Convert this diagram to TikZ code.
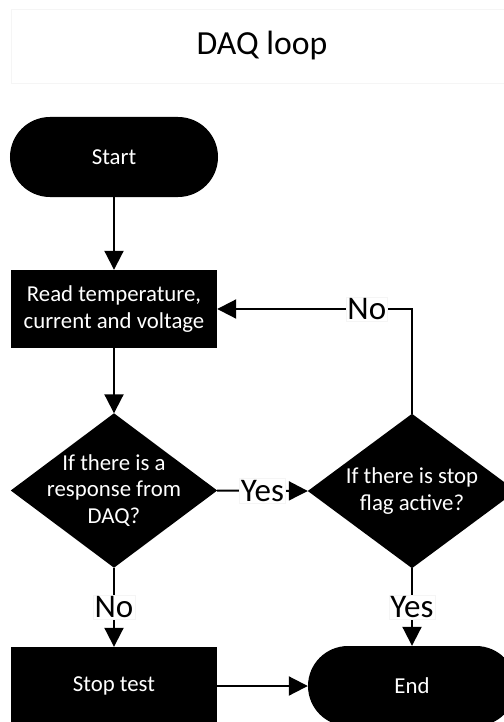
\documentclass[tikz,border=0pt]{standalone}
\usepackage{fontspec}
\setmainfont{Carlito}
\usetikzlibrary{arrows.meta,backgrounds}
\begin{document}
\begin{tikzpicture}[x=1bp,y=-1bp,
  nodefont/.style={font=\fontsize{22.8bp}{26.5bp}\selectfont},
  box/.style={rectangle, fill=black, text=white, nodefont, align=center, inner sep=0pt},
  term/.style={box, rounded corners=40bp, minimum width=208bp, minimum height=80bp},
  proc/.style={box, minimum width=206bp, minimum height=78bp},
  dec/.style={rectangle, text=white, nodefont, align=center, minimum width=206bp, minimum height=154bp, inner sep=0pt},
  conn/.style={line width=2bp, -{Triangle[length=19bp,width=19bp]}},
  lbl/.style={fill=white, draw=black!4, line width=0.5bp, text=black, font=\fontsize{33bp}{36bp}\selectfont, inner sep=1.5bp}
]
\useasboundingbox (0,0) rectangle (504,722);
\clip (0,0) rectangle (504,722);

\node[draw=black!4, line width=0.6bp, minimum width=502bp, minimum height=74bp, inner sep=0pt,
      font=\fontsize{33.7bp}{36bp}\selectfont] (title) at (262,46) {DAQ loop};

\node[term] (start) at (114,157) {Start};
\node[proc] (read) at (114,309) {Read temperature,\\current and voltage};
\node[dec] (d1) at (114,490.5) {If there is a\\response from\\DAQ?};
\node[dec, minimum width=208bp] (d2) at (412,491) {If there is stop\\flag active?};
\node[proc] (stop) at (114,686) {Stop test};
\node[term] (end) at (412,686) {End};

\begin{scope}[on background layer]
  \fill (d1.north) -- (d1.east) -- (d1.south) -- (d1.west) -- cycle;
  \fill (d2.north) -- (d2.east) -- (d2.south) -- (d2.west) -- cycle;
\end{scope}

\coordinate (fb) at (d2.north |- read.east);
\draw[conn] (start.south) -- (read.north);
\draw[conn] (read.south) -- (d1.north);
\draw[conn] (d1.east) -- node[lbl]{Yes} (d2.west);
\draw[conn] (d1.south) -- node[lbl]{No} (stop.north);
\draw[conn] (d2.south) -- node[lbl]{Yes} (end.north);
\draw[conn] (d2.north) -- (fb) -- node[lbl, pos=0.232]{No} (read.east);
\draw[conn] (stop.east) -- (end.west);
\end{tikzpicture}
\end{document}
